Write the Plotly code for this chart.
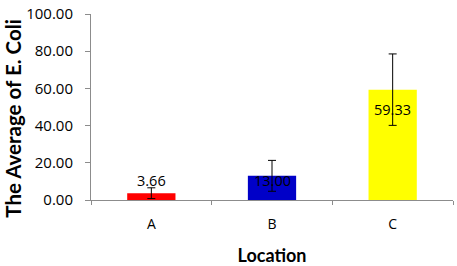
import plotly.graph_objects as go

locations = ["A", "B", "C"]
averages = [3.66, 13.00, 59.33]
errors = [2.9, 8.3, 19.2]
label_texts = ["3.66", "13.00", "59.33"]
bar_colors = ["#FF0000", "#0000C8", "#FFFF00"]
label_shifts = [13, -5, -20]

TICK_FONT = "Open Sans"
TITLE_FONT = "Lato"

fig = go.Figure(go.Bar(
    x=locations, y=averages, width=0.4,
    marker=dict(color=bar_colors, line=dict(width=0)),
    error_y=dict(type="data", array=errors, visible=True, color="#000000",
                 thickness=1, width=4),
))

for loc, val, txt, sh in zip(locations, averages, label_texts, label_shifts):
    fig.add_annotation(x=loc, y=val, text=txt, showarrow=False, yshift=sh,
                       font=dict(family=TICK_FONT, size=14.5, color="#000000"))

# y-axis title as a rotated annotation (sits slightly below the plot's centre)
fig.add_annotation(
    text="<b>The Average of E. Coli</b>", textangle=-90, showarrow=False,
    xref="paper", yref="paper", x=0, y=0.437, xanchor="center", yanchor="middle",
    xshift=-78, font=dict(family=TITLE_FONT, size=20.5, color="#000000"),
)

fig.update_layout(
    width=457, height=266,
    margin=dict(l=91, r=4, t=14, b=66),
    paper_bgcolor="white", plot_bgcolor="white",
    showlegend=False,
    font=dict(family=TICK_FONT, color="#000000"),
)
fig.update_xaxes(
    type="category", showline=True, linecolor="#8C8C8C", linewidth=1,
    ticks="outside", tickson="boundaries", ticklen=4, tickcolor="#8C8C8C",
    tickfont=dict(family=TICK_FONT, size=14, color="#000000"),
    ticklabelstandoff=11,
    title=dict(text="<b>Location</b>", font=dict(family=TITLE_FONT, size=18), standoff=19),
    showgrid=False, automargin=False,
)
fig.update_yaxes(
    range=[0, 100], dtick=20, tickformat=".2f",
    showline=True, linecolor="#8C8C8C", linewidth=1,
    ticks="outside", ticklen=5, tickcolor="#8C8C8C",
    tickfont=dict(family=TICK_FONT, size=15, color="#000000"),
    ticklabelstandoff=9, ticklabeloverflow="allow",
    showgrid=False, zeroline=False, automargin=False,
)

# remove the browser's default 8px body margin so the figure fills the window
fig.write_html("out.html", config={"displayModeBar": False},
               post_script="document.body.style.margin='0';")
